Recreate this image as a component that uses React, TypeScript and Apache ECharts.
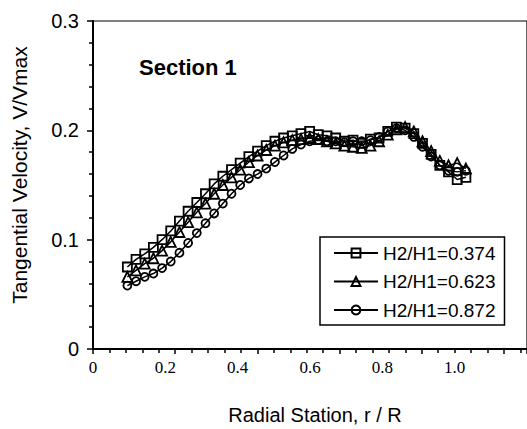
import React, { useEffect, useRef } from "react";
import * as echarts from "echarts";

// ---- data ----
const radialStation = [
  0.095, 0.119, 0.143, 0.167, 0.191, 0.215, 0.239, 0.263, 0.287, 0.311,
  0.335, 0.359, 0.383, 0.407, 0.431, 0.455, 0.479, 0.503, 0.527, 0.551,
  0.575, 0.599, 0.623, 0.647, 0.671, 0.695, 0.719, 0.743, 0.767, 0.791,
  0.815, 0.839, 0.863, 0.887, 0.911, 0.935, 0.959, 0.983, 1.007, 1.031,
];
const velocity374 = [
  0.075, 0.082, 0.087, 0.093, 0.1, 0.108, 0.117, 0.126, 0.134, 0.142,
  0.151, 0.158, 0.164, 0.17, 0.176, 0.181, 0.186, 0.19, 0.193, 0.195,
  0.197, 0.199, 0.196, 0.195, 0.193, 0.19, 0.191, 0.188, 0.192, 0.193,
  0.199, 0.203, 0.202, 0.197, 0.188, 0.178, 0.168, 0.162, 0.155, 0.157,
];
const velocity623 = [
  0.066, 0.072, 0.078, 0.083, 0.09, 0.098, 0.107, 0.116, 0.125, 0.133,
  0.142, 0.15, 0.157, 0.164, 0.171, 0.177, 0.182, 0.186, 0.189, 0.191,
  0.192, 0.193, 0.192, 0.19, 0.188, 0.186, 0.185, 0.184, 0.186, 0.19,
  0.196, 0.201, 0.203, 0.199, 0.19, 0.181, 0.172, 0.168, 0.17, 0.165,
];
const velocity872 = [
  0.058, 0.062, 0.066, 0.069, 0.074, 0.08, 0.088, 0.097, 0.106, 0.115,
  0.124, 0.133, 0.142, 0.15, 0.156, 0.16, 0.165, 0.171, 0.177, 0.183,
  0.187, 0.19, 0.191, 0.19, 0.19, 0.189, 0.19, 0.19, 0.191, 0.194,
  0.199, 0.202, 0.2, 0.194, 0.185, 0.176, 0.168, 0.163, 0.162, 0.163,
];
const seriesNames = ["H2/H1=0.374", "H2/H1=0.623", "H2/H1=0.872"];
const seriesSymbols = ["rect", "triangle", "circle"];
const xTickLabels = [0, 0.2, 0.4, 0.6, 0.8, 1.0];
const yTicks = [0, 0.1, 0.2, 0.3];

const SANS = "'Liberation Sans', Arial, sans-serif";
const SERIF = "'Liberation Serif', 'Times New Roman', serif";

export default function App() {
  const ref = useRef<HTMLDivElement>(null);

  useEffect(() => {
    if (!ref.current) return;
    const chart = echarts.init(ref.current, undefined, { renderer: "svg" });
    const values = [velocity374, velocity623, velocity872];
    const symbolSizes = [9, 10, 8];

    chart.setOption({
      animation: false,
      backgroundColor: "#fff",
      grid: {
        left: 93,
        top: 21,
        width: 464.4,
        height: 328,
        show: true,
        borderColor: "#000",
        borderWidth: 1.2,
      },
      xAxis: {
        type: "value",
        min: 0,
        max: 1.2,
        interval: 5 / 22,
        axisLine: { show: true, onZero: false, lineStyle: { color: "#000", width: 2 } },
        axisTick: { show: true, inside: false, length: 5, lineStyle: { color: "#000", width: 1.5 } },
        minorTick: { show: true, splitNumber: 5, length: 4, lineStyle: { color: "#000", width: 1.5 } },
        splitLine: { show: false },
        axisLabel: {
          customValues: xTickLabels,
          margin: 10,
          color: "#000",
          fontFamily: SERIF,
          fontSize: 17,
          formatter: (v: number) => (v === 0 ? "0" : v.toFixed(1)),
        },
      },
      yAxis: {
        type: "value",
        min: 0,
        max: 0.3,
        interval: 0.1,
        axisLine: { show: true, onZero: false, lineStyle: { color: "#000", width: 2 } },
        axisTick: { show: true, inside: false, length: 6, lineStyle: { color: "#000", width: 1.5 } },
        minorTick: { show: true, splitNumber: 5, length: 4, lineStyle: { color: "#000", width: 1.5 } },
        splitLine: { show: false },
        axisLabel: {
          customValues: yTicks,
          margin: 14,
          color: "#000",
          fontFamily: SANS,
          fontSize: 20,
          formatter: (v: number) => (v === 0 ? "0" : v.toFixed(1)),
        },
      },
      legend: {
        left: 320,
        top: 237,
        orient: "vertical",
        data: seriesNames,
        backgroundColor: "#fff",
        borderColor: "#000",
        borderWidth: 1.5,
        borderRadius: 0,
        padding: [6.5, 9, 5.5, 13],
        itemGap: 9.5,
        itemWidth: 44,
        itemHeight: 11,
        textStyle: { color: "#000", fontFamily: SANS, fontSize: 19 },
      },
      graphic: [
        {
          type: "text",
          left: 139,
          top: 56,
          style: {
            text: "Section 1",
            fill: "#000",
            font: "bold 22px 'Liberation Sans', Arial, sans-serif",
          },
        },
        {
          type: "text",
          x: 19,
          y: 175,
          rotation: Math.PI / 2,
          style: {
            text: "Tangential Velocity, V/Vmax",
            fill: "#000",
            font: "21px 'Liberation Sans', Arial, sans-serif",
            textAlign: "center",
            textVerticalAlign: "middle",
          },
        },
        {
          type: "text",
          x: 315,
          y: 415,
          style: {
            text: "Radial Station, r / R",
            fill: "#000",
            font: "20px 'Liberation Sans', Arial, sans-serif",
            textAlign: "center",
            textVerticalAlign: "middle",
          },
        },
      ],
      series: seriesNames.map((name, i) => ({
        name,
        type: "line",
        data: radialStation.map((r, j) => [r, values[i][j]]),
        symbol: seriesSymbols[i],
        symbolSize: symbolSizes[i],
        showAllSymbol: true,
        lineStyle: { color: "#000", width: 1.5 },
        itemStyle: { color: "rgba(255,255,255,0)", borderColor: "#000", borderWidth: 1.8 },
        emphasis: { disabled: true },
      })),
    });

    return () => chart.dispose();
  }, []);

  return (
    <div
      ref={ref}
      style={{ position: "absolute", left: 0, top: 0, width: 527, height: 429 }}
    />
  );
}
